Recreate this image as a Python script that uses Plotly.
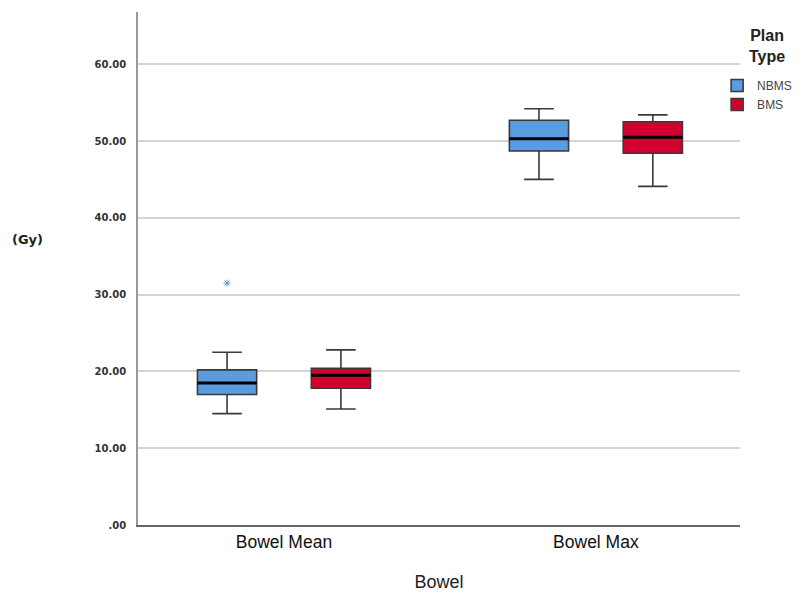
import plotly.graph_objects as go

categories = ["Bowel Mean", "Bowel Max"]

nbms_q1 = [17.0, 48.7]
nbms_median = [18.5, 50.3]
nbms_q3 = [20.2, 52.7]
nbms_low = [14.5, 45.0]
nbms_high = [22.5, 54.2]
nbms_outliers = [[31.5], []]

bms_q1 = [17.8, 48.4]
bms_median = [19.5, 50.5]
bms_q3 = [20.4, 52.5]
bms_low = [15.1, 44.1]
bms_high = [22.8, 53.4]
bms_outliers = None

tick_vals = [0, 10, 20, 30, 40, 50, 60]
tick_text = [".00", "10.00", "20.00", "30.00", "40.00", "50.00", "60.00"]

BLUE = "#5B9BE0"
RED = "#D2002E"

fig = go.Figure()

def add_series(name, color, q1, med, q3, lo, hi, pts):
    kw = {}
    if pts is not None:
        kw["y"] = pts
        kw["boxpoints"] = "outliers"
    else:
        kw["boxpoints"] = False
    fig.add_trace(go.Box(
        name=name, x=categories, q1=q1, median=med, q3=q3,
        lowerfence=lo, upperfence=hi,
        fillcolor=color,
        line=dict(color="#3a3a3a", width=1.6),
        marker=dict(symbol="asterisk-open", color=BLUE, size=6, line=dict(color=BLUE, width=1)),
        whiskerwidth=0.5,
        offsetgroup=name, alignmentgroup="a",
        **kw,
    ))
    fig.add_trace(go.Box(
        name=name, x=categories, q1=med, median=med, q3=med,
        lowerfence=med, upperfence=med,
        boxpoints=False,
        fillcolor="rgba(0,0,0,0)",
        line=dict(color="#000000", width=3),
        whiskerwidth=0,
        offsetgroup=name, alignmentgroup="a",
        showlegend=False, hoverinfo="skip",
    ))

add_series("NBMS", BLUE, nbms_q1, nbms_median, nbms_q3, nbms_low, nbms_high, nbms_outliers)
add_series("BMS", RED, bms_q1, bms_median, bms_q3, bms_low, bms_high, bms_outliers)

fig.update_layout(
    width=794, height=586,
    margin=dict(l=130, r=62, t=4, b=69, autoexpand=False),
    paper_bgcolor="white", plot_bgcolor="white",
    boxmode="group", boxgap=0.27, boxgroupgap=0.48,
    font=dict(family="Liberation Sans, Arial, sans-serif", color="#222"),
    legend=dict(
        x=0.962, y=0.885, xanchor="left", yanchor="top",
        font=dict(size=12, color="#444"),
        itemwidth=30, tracegroupgap=0,
        bgcolor="rgba(0,0,0,0)",
    ),
    xaxis=dict(
        type="category", range=[-0.468, 1.462],
        showline=True, linecolor="#666", linewidth=1.5,
        showgrid=False, ticks="", automargin=False,
        tickfont=dict(size=17.5, color="#111"),
        title=dict(text="Bowel", font=dict(size=18, color="#222"), standoff=25),
    ),
    yaxis=dict(
        range=[0, 66.8], automargin=False,
        tickvals=tick_vals, ticktext=tick_text,
        tickfont=dict(size=10, color="#333", family="DejaVu Sans", weight="bold"),
        showline=True, linecolor="#999", linewidth=1.5,
        showgrid=True, gridcolor="#d4d4d4", gridwidth=1.5,
        zeroline=False, ticks="", ticklabelstandoff=8,
    ),
    showlegend=True,
)

fig.add_annotation(
    text="<b>Plan<br>Type</b>", xref="paper", yref="paper",
    x=1.045, y=0.934, xanchor="center", yanchor="middle",
    showarrow=False, font=dict(size=16, color="#222"),
)

fig.add_annotation(
    text="<b>(Gy)</b>", xref="paper", yref="paper",
    x=-0.184, y=0.556, xanchor="center", yanchor="middle",
    showarrow=False, font=dict(size=13, color="#222", family="DejaVu Sans"),
)

fig.write_html("out.html")
